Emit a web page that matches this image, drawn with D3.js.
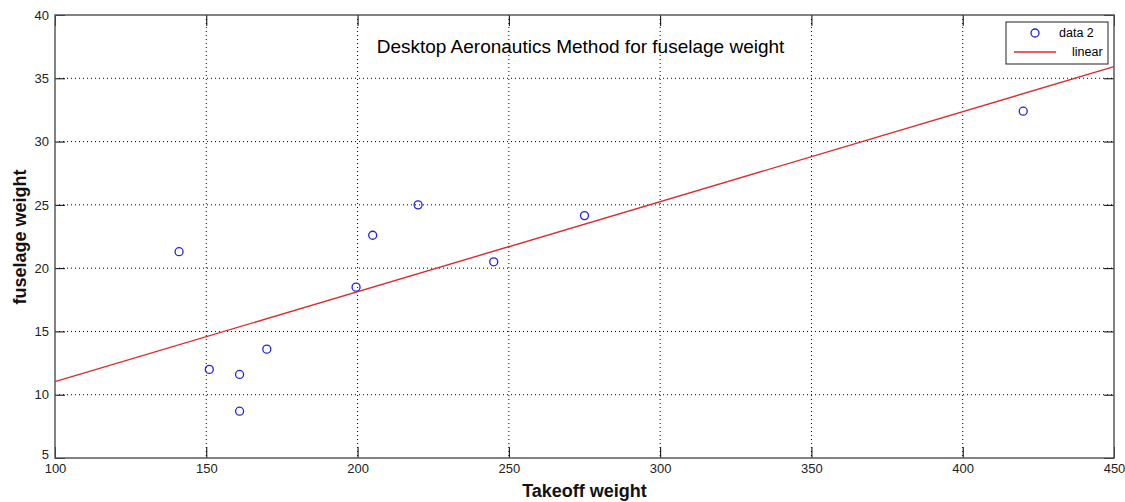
<!DOCTYPE html>
<html>
<head>
<meta charset="utf-8">
<script src="https://cdn.jsdelivr.net/npm/d3@7"></script>
<style>
  body { margin: 0; background: #fff; }
  svg { display: block; font-family: "Liberation Sans", Arial, sans-serif; }
  .grid line { stroke: #000; stroke-dasharray: 1,3; stroke-width: 1; }
  .tick text { font-size: 13px; fill: #222; }
</style>
</head>
<body>
<script>
// takeoff weight vs fuselage weight
var takeoff = [141, 151, 161, 170, 161, 199.5, 205, 220, 245, 275, 420];
var fuselage = [21.3, 12.0, 11.6, 13.6, 8.7, 18.5, 22.6, 25.0, 20.5, 24.15, 32.4];

// linear fit, end points
var fitX = [100, 450];
var fitY = [11.03, 35.92];

var xTicks = [100, 150, 200, 250, 300, 350, 400, 450];
var yTicks = [5, 10, 15, 20, 25, 30, 35, 40];

var W = 1125, H = 502;
var margin = { top: 15, right: 11, bottom: 44, left: 55 },
    width = W - margin.left - margin.right,
    height = H - margin.top - margin.bottom;

var x = d3.scaleLinear().domain([100, 450]).range([0, width]);
var y = d3.scaleLinear().domain([5, 40]).range([height, 0]);

var svg = d3.select("body").append("svg")
    .attr("width", W)
    .attr("height", H);

var g = svg.append("g")
    .attr("transform", "translate(" + margin.left + "," + margin.top + ")");

// grid
g.append("g").attr("class", "grid")
    .selectAll("line").data(xTicks.slice(1, -1)).enter().append("line")
    .attr("x1", function (d) { return x(d); })
    .attr("x2", function (d) { return x(d); })
    .attr("y1", 0).attr("y2", height);

g.append("g").attr("class", "grid")
    .selectAll("line").data(yTicks.slice(1, -1)).enter().append("line")
    .attr("y1", function (d) { return y(d); })
    .attr("y2", function (d) { return y(d); })
    .attr("x1", 0).attr("x2", width);

// axes, ticks pointing inwards
var xAxis = g.append("g")
    .attr("transform", "translate(0," + height + ")")
    .call(d3.axisBottom(x).tickValues(xTicks).tickSizeInner(-11).tickSizeOuter(0).tickPadding(6));
var xAxisTop = g.append("g")
    .call(d3.axisTop(x).tickValues(xTicks).tickSizeInner(-11).tickSizeOuter(0).tickFormat(""));
var yAxis = g.append("g")
    .call(d3.axisLeft(y).tickValues(yTicks).tickSizeInner(-10).tickSizeOuter(0).tickPadding(6));
var yAxisRight = g.append("g")
    .attr("transform", "translate(" + width + ",0)")
    .call(d3.axisRight(y).tickValues(yTicks).tickSizeInner(-10).tickSizeOuter(0).tickFormat(""));

[xAxis, xAxisTop, yAxis, yAxisRight].forEach(function (a) {
    a.select(".domain").remove();
    a.selectAll(".tick line").attr("stroke", "#000");
});
// lowest y label sits a little higher so it clears the 100
yAxis.selectAll(".tick text").filter(function (d) { return d === 5; }).attr("dy", "0.05em");

// frame
g.append("rect")
    .attr("width", width).attr("height", height)
    .attr("fill", "none").attr("stroke", "#5a5a5a").attr("stroke-width", 1.5);

// fit line
var line = d3.line()
    .x(function (d, i) { return x(d); })
    .y(function (d, i) { return y(fitY[i]); });

g.append("path")
    .datum(fitX)
    .attr("d", line)
    .attr("fill", "none")
    .attr("stroke", "#dd2a2a")
    .attr("stroke-width", 1.4);

// data points
g.selectAll("circle.pt").data(takeoff).enter().append("circle")
    .attr("class", "pt")
    .attr("cx", function (d) { return x(d); })
    .attr("cy", function (d, i) { return y(fuselage[i]); })
    .attr("r", 4)
    .attr("fill", "none")
    .attr("stroke", "#2222dd")
    .attr("stroke-width", 1.3);

// title
g.append("text")
    .attr("x", x(275) - 4)
    .attr("y", 38)
    .attr("text-anchor", "middle")
    .style("font-size", "19px")
    .text("Desktop Aeronautics Method for fuselage weight");

// axis labels
svg.append("text")
    .attr("x", margin.left + width / 2)
    .attr("y", 497)
    .attr("text-anchor", "middle")
    .style("font-size", "18px")
    .style("font-weight", "bold")
    .style("fill", "#111")
    .text("Takeoff weight");

svg.append("text")
    .attr("transform", "translate(26," + 237 + ") rotate(-90)")
    .attr("text-anchor", "middle")
    .style("font-size", "18px")
    .style("font-weight", "bold")
    .style("fill", "#111")
    .text("fuselage weight");

// legend
var lg = svg.append("g").attr("transform", "translate(1006,22)");
lg.append("rect")
    .attr("width", 102).attr("height", 42)
    .attr("fill", "#fff").attr("stroke", "#222").attr("stroke-width", 1);
lg.append("circle")
    .attr("cx", 29).attr("cy", 11).attr("r", 4)
    .attr("fill", "none").attr("stroke", "#2222dd").attr("stroke-width", 1.3);
lg.append("line")
    .attr("x1", 8).attr("x2", 50).attr("y1", 30).attr("y2", 30)
    .attr("stroke", "#dd2a2a").attr("stroke-width", 1.4);
lg.append("text").attr("x", 53).attr("y", 15).style("font-size", "12.5px").text("data 2");
lg.append("text").attr("x", 66).attr("y", 34).style("font-size", "12.5px").text("linear");
</script>
</body>
</html>
